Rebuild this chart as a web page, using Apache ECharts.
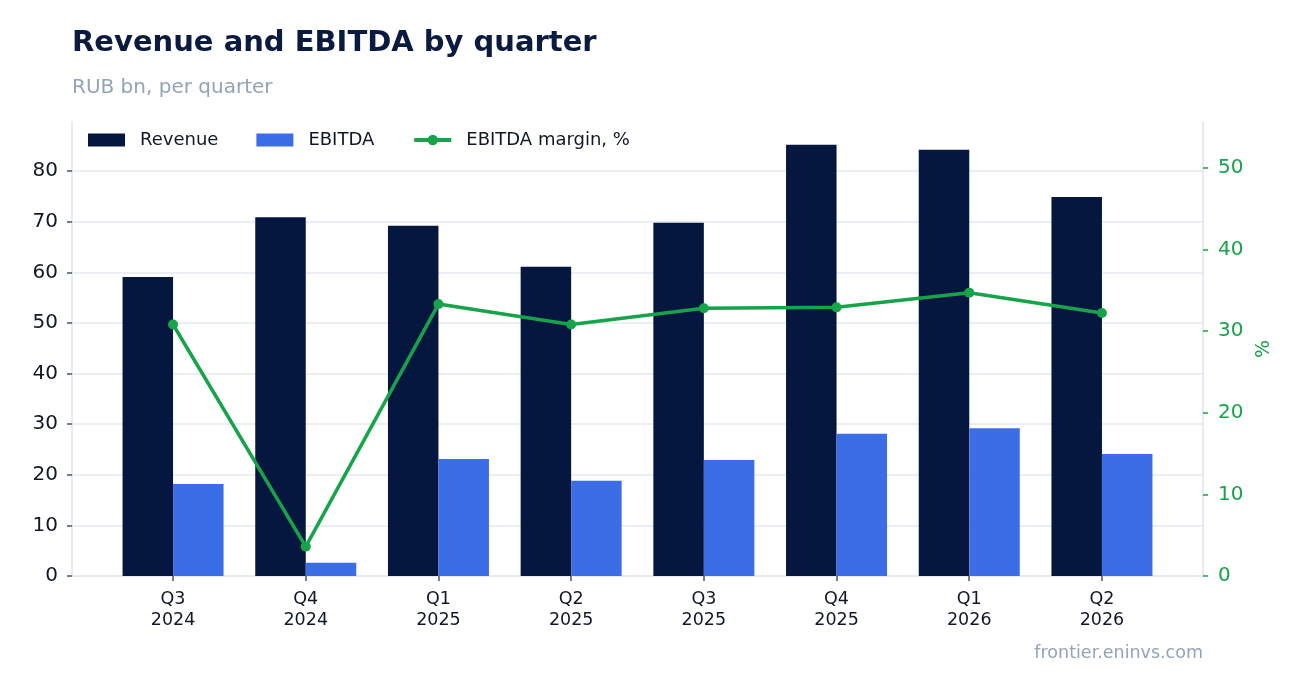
<!DOCTYPE html>
<html>
<head>
<meta charset="utf-8">
<title>Revenue and EBITDA by quarter</title>
<script src="https://cdn.jsdelivr.net/npm/echarts@6/dist/echarts.min.js"></script>
<style>
  html, body { margin: 0; padding: 0; background: #ffffff; }
  #box { width: 1302px; height: 693px; }
</style>
</head>
<body>
<div id="box"></div>
<script>
// quarters on the x axis
var quarters = ['Q3\n2024', 'Q4\n2024', 'Q1\n2025', 'Q2\n2025', 'Q3\n2025', 'Q4\n2025', 'Q1\n2026', 'Q2\n2026'];
// RUB bn
var revenue = [59.1, 70.9, 69.2, 61.1, 69.8, 85.2, 84.2, 74.9];
var ebitda  = [18.2, 2.6, 23.1, 18.8, 22.9, 28.1, 29.2, 24.1];
// %
var margin  = [30.8, 3.6, 33.3, 30.8, 32.8, 32.9, 34.7, 32.2];

var navy = '#05163f', blue = '#3b6de6', green = '#16a34a';
var font = 'DejaVu Sans';
var leftMax = 89.7, rightMax = 55.6;

var myChart = echarts.init(document.getElementById('box'));

var option = {
    backgroundColor: '#ffffff',
    animation: false,
    textStyle: { fontFamily: font },
    title: [
        { text: 'Revenue and EBITDA by quarter', left: 72, top: 27, padding: 0,
          textStyle: { fontFamily: font, fontSize: 29, fontWeight: 'bold', color: '#0b1a3f', lineHeight: 32 } },
        { text: 'RUB bn, per quarter', left: 72, top: 77, padding: 0,
          textStyle: { fontFamily: font, fontSize: 20, fontWeight: 'normal', color: '#94a3b8', lineHeight: 22 } }
    ],
    legend: {
        left: 88, top: 130, padding: 0,
        itemWidth: 37, itemHeight: 13, itemGap: 38,
        lineStyle: { width: 4 },
        textStyle: { fontFamily: font, fontSize: 18, color: '#111827', lineHeight: 20, padding: [0, 0, 0, 10] },
        data: [
            { name: 'Revenue', icon: 'rect' },
            { name: 'EBITDA', icon: 'rect' },
            { name: 'EBITDA margin, %' }
        ]
    },
    // grid 0 carries the frame, ticks and grid lines; grid 1 places the bars
    grid: [
        { left: 72, right: 99, top: 122, bottom: 117 },
        { left: 106.7, right: 133.7, top: 122, bottom: 117 }
    ],
    xAxis: [
        { gridIndex: 0, type: 'value', min: 0, max: 1,
          axisLine: { show: true, onZero: false, lineStyle: { color: '#dfe3ec', width: 1.5 } },
          axisTick: { show: false }, axisLabel: { show: false }, splitLine: { show: false } },
        { gridIndex: 1, type: 'category', data: quarters,
          axisLine: { show: false },
          axisTick: { show: true, alignWithLabel: true, length: 5, lineStyle: { color: '#4b5563', width: 1.5 } },
          axisLabel: { fontFamily: font, fontSize: 17.5, color: '#111827', lineHeight: 21, margin: 13 } }
    ],
    yAxis: [
        { gridIndex: 0, type: 'value', min: 0, max: leftMax, interval: 10, position: 'left',
          axisLine: { show: true, lineStyle: { color: '#dfe3ec', width: 1.5 } },
          axisTick: { show: true, length: 5, lineStyle: { color: '#4b5563', width: 1.5 } },
          axisLabel: { fontFamily: font, fontSize: 20, color: '#111827', margin: 14,
                       showMaxLabel: false },
          splitLine: { show: true, showMaxLine: false, showMinLine: false,
                       lineStyle: { color: '#e5e8f0', width: 1.5 } } },
        { gridIndex: 0, type: 'value', min: 0, max: rightMax, interval: 10, position: 'right',
          name: '%', nameLocation: 'middle', nameGap: 51, nameRotate: 90,
          nameTextStyle: { fontFamily: font, fontSize: 19, color: green },
          axisLine: { show: true, lineStyle: { color: '#dfe3ec', width: 1.5 } },
          axisTick: { show: true, length: 5, lineStyle: { color: green, width: 1.5 } },
          axisLabel: { fontFamily: font, fontSize: 20, color: green, margin: 15, showMaxLabel: false },
          splitLine: { show: false } },
        { gridIndex: 1, type: 'value', min: 0, max: leftMax, show: false, splitLine: { show: false } },
        { gridIndex: 1, type: 'value', min: 0, max: rightMax, show: false, splitLine: { show: false } }
    ],
    graphic: [
        { type: 'text', right: 99, top: 644,
          style: { text: 'frontier.eninvs.com', fill: '#94a3b8', font: '17.5px "DejaVu Sans"' } }
    ],
    series: [
        { name: 'Revenue', type: 'bar', xAxisIndex: 1, yAxisIndex: 2,
          barWidth: 50.5, barGap: '0%', itemStyle: { color: navy }, data: revenue },
        { name: 'EBITDA', type: 'bar', xAxisIndex: 1, yAxisIndex: 2,
          barWidth: 50.5, barGap: '0%', itemStyle: { color: blue }, data: ebitda },
        { name: 'EBITDA margin, %', type: 'line', xAxisIndex: 1, yAxisIndex: 3,
          symbol: 'circle', symbolSize: 10,
          lineStyle: { color: green, width: 3.5 }, itemStyle: { color: green },
          data: margin, z: 5 }
    ]
};

myChart.setOption(option);
</script>
</body>
</html>
